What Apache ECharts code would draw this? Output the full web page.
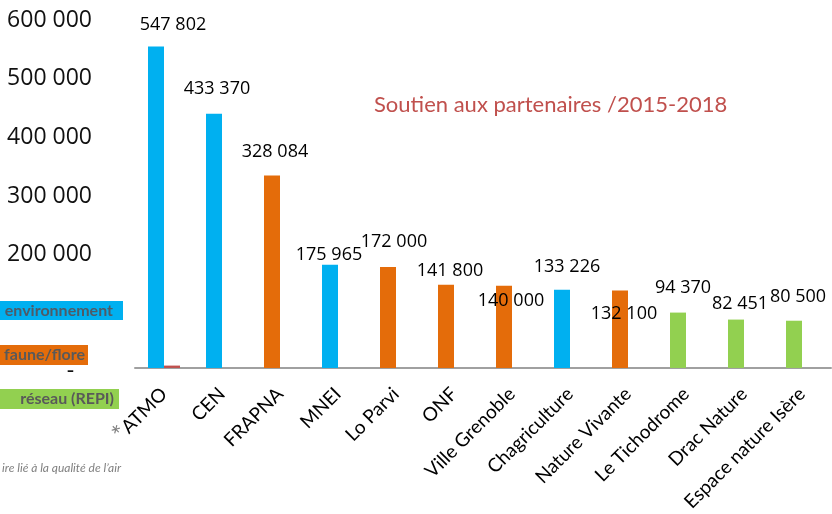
<!DOCTYPE html>
<html>
<head>
<meta charset="utf-8">
<title>Soutien aux partenaires /2015-2018</title>
<script src="https://cdn.jsdelivr.net/npm/echarts@6/dist/echarts.min.js"></script>
<style>html,body{margin:0;padding:0;background:#fff;}</style>
</head>
<body>
<div id="chart" style="width:832px;height:514px;"></div>
<script>
  // partners and amounts 2015-2018
  const partners = ['*ATMO', 'CEN', 'FRAPNA', 'MNEI', 'Lo Parvi', 'ONF', 'Ville Grenoble',
    'Chagriculture', 'Nature Vivante', 'Le Tichodrome', 'Drac Nature', 'Espace nature Isère'];
  const amounts = [547802, 433370, 328084, 175965, 172000, 141800, 140000, 133226, 132100, 94370, 82451, 80500];
  const themes = ['env', 'env', 'faune', 'env', 'faune', 'faune', 'faune', 'env', 'faune', 'reseau', 'reseau', 'reseau'];
  const secondAmounts = [4000, 0, 0, 0, 0, 0, 0, 0, 0, 0, 0, 0];
  const yMin = 0, yMax = 600000, yStep = 100000;

  const themeColors = { env: '#00b0f0', faune: '#e46c0a', reseau: '#92d050' };
  // hand placed labels, as in the original
  const labelShift = [[17, -8], [3, -11], [3, -10], [-1, 4], [6, -11], [4, 0], [7, 29], [5, -9], [4, 37], [5, -11], [4, -2], [4, -10]];

  function spaced(v) {
    return String(v).replace(/\B(?=(\d{3})+(?!\d))/g, ' ');
  }

  const chart = echarts.init(document.getElementById('chart'));

  const option = {
    animation: false,
    title: {
      text: 'Soutien aux partenaires /2015-2018',
      left: 369,
      top: 89,
      textStyle: { color: '#c0504d', fontSize: 22, fontWeight: 'normal', fontFamily: 'Lato' }
    },
    grid: { left: 135, right: 1, top: 16, bottom: 145, containLabel: false },
    xAxis: {
      type: 'category',
      data: partners,
      axisLine: { lineStyle: { color: '#a0a0a0', width: 2 } },
      axisTick: { length: 7, lineStyle: { color: '#a0a0a0', width: 2 } },
      axisLabel: {
        rotate: 45,
        interval: 0,
        margin: 23,
        color: '#000',
        fontSize: 19,
        fontFamily: 'Lato',
        formatter: function (v) {
          return v.charAt(0) === '*' ? '{star|*}' + v.slice(1) : v;
        },
        rich: {
          star: { color: '#7f7f7f', fontSize: 26, fontFamily: 'Lato' }
        }
      }
    },
    yAxis: {
      type: 'value',
      min: yMin,
      max: yMax,
      interval: yStep,
      splitLine: { show: false },
      axisLine: { show: false },
      axisTick: { show: false },
      axisLabel: {
        margin: 43,
        verticalAlign: 'top',
        lineHeight: 8,
        color: '#111',
        fontSize: 23,
        fontFamily: 'Open Sans',
        formatter: function (v) {
          return v === 0 ? '-   ' : spaced(v);
        }
      }
    },
    series: [
      {
        type: 'bar',
        barWidth: 16,
        barGap: '0%',
        data: amounts.map(function (v, i) {
          return {
            value: v,
            itemStyle: { color: themeColors[themes[i]] },
            label: { offset: labelShift[i] }
          };
        }),
        label: {
          show: true,
          position: 'top',
          color: '#000',
          fontSize: 18,
          fontFamily: 'Open Sans',
          formatter: function (p) { return spaced(p.value); }
        }
      },
      {
        type: 'bar',
        barWidth: 16,
        barGap: '0%',
        itemStyle: { color: '#c0504d' },
        data: secondAmounts
      }
    ],
    graphic: [
      { type: 'rect', z: 100, shape: { x: 0, y: 301, width: 123, height: 19 }, style: { fill: '#00b0f0' } },
      { type: 'text', z: 101, x: 113, y: 311, style: { text: 'environnement', fill: '#4f5a66', font: 'bold 16px Lato', textAlign: 'right', textVerticalAlign: 'middle' } },
      { type: 'rect', z: 100, shape: { x: 0, y: 345, width: 88, height: 20 }, style: { fill: '#e46c0a' } },
      { type: 'text', z: 101, x: 85, y: 355, style: { text: 'faune/flore', fill: '#595959', font: 'bold 16px Lato', textAlign: 'right', textVerticalAlign: 'middle' } },
      { type: 'rect', z: 100, shape: { x: 0, y: 389, width: 119, height: 20 }, style: { fill: '#92d050' } },
      { type: 'text', z: 101, x: 114, y: 399, style: { text: 'réseau (REPI)', fill: '#595959', font: 'bold 16px Lato', textAlign: 'right', textVerticalAlign: 'middle' } },
      { type: 'text', z: 101, x: 121, y: 468, style: { text: 'ire lié à la qualité de l\u2019air', fill: '#7f7f7f', font: 'italic 12px Lato', textAlign: 'right', textVerticalAlign: 'middle' } }
    ]
  };

  chart.setOption(option);
</script>
</body>
</html>
